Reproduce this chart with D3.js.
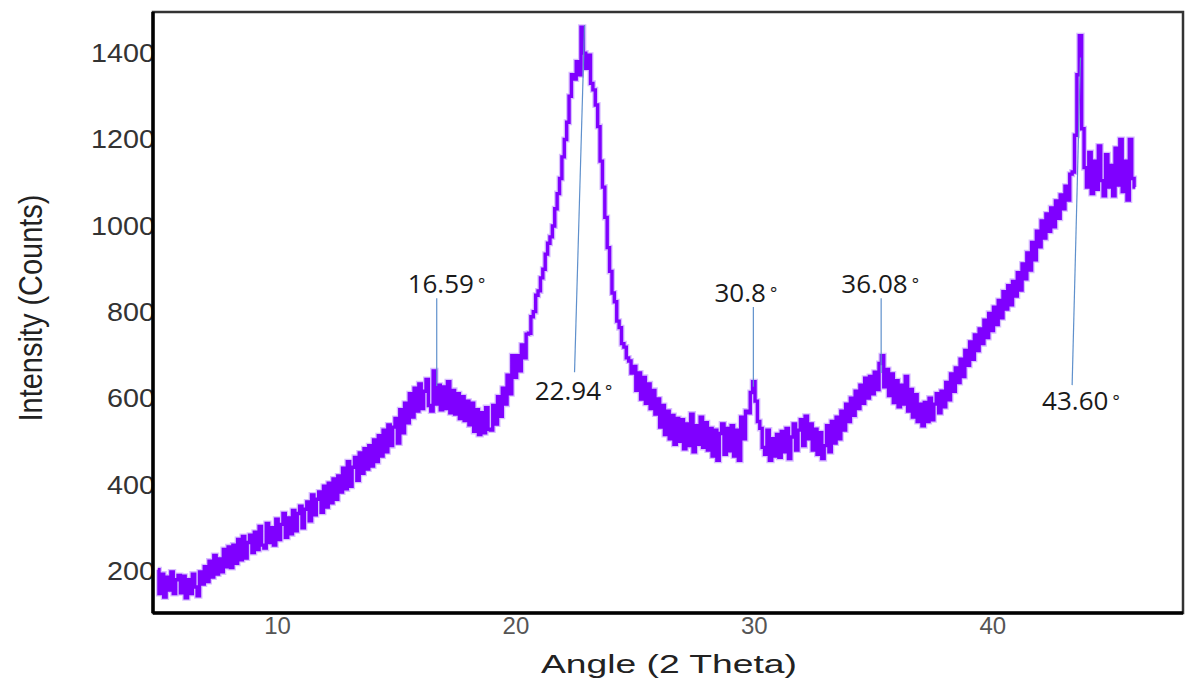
<!DOCTYPE html>

<head>
  <meta charset="utf-8">
  <script src="https://d3js.org/d3.v7.min.js"></script>
  <style>
    body { margin: 0; background: #fff; }
    text { font-family: "Liberation Sans", Arial, sans-serif; }
    .tick line, path.domain { display: none; }
    .yAxis .tick text { font-size: 25px; fill: #333; }
    .xAxis .tick text { font-size: 24px; fill: #555; }
    text.axisTitle { font-size: 25px; fill: #222; }
    text.peakLabel { font-family: "Open Sans", sans-serif; font-size: 26px; fill: #1a1a1a; }
    line.leader { stroke: #5f90cc; stroke-width: 1.2; }
    path.trace { fill: none; stroke: #7f00ff; stroke-width: 3.4; }
    path.traceGlow { fill: none; stroke: #a870ff; stroke-width: 6; opacity: 0.45; }
  </style>
</head>

<body>
  <script>
    var width = 1186, height = 684;

    // sampling grid of the scan (2 theta, degrees)
    const angleStart = 5.0;
    const angleStep = 0.1;

    // intensity, one row per degree (5.0 .. 46.0)
    const intensity = [
      205, 150, 195, 142, 188, 158, 200, 150, 182, 192,
      152, 190, 140, 182, 150, 195, 165, 145, 200, 172,
      212, 178, 225, 188, 238, 195, 230, 200, 252, 212,
      258, 210, 262, 220, 275, 228, 282, 232, 268, 285,
      245, 292, 252, 305, 262, 255, 312, 268, 302, 262,
      322, 275, 310, 335, 280, 325, 288, 342, 295, 335,
      352, 302, 345, 362, 318, 378, 332, 368, 385, 338,
      398, 350, 405, 360, 415, 368, 422, 385, 440, 392,
      455, 398, 442, 465, 412, 475, 428, 485, 438, 492,
      445, 505, 455, 515, 468, 528, 478, 540, 492, 535,
      555, 498, 575, 522, 590, 545, 612, 558, 625, 572,
      635, 578, 618, 645, 585, 572, 665, 588, 632, 575,
      628, 578, 640, 568, 620, 565, 612, 555, 605, 550,
      595, 540, 590, 525, 575, 518, 568, 522, 580, 530,
      528, 585, 542, 605, 560, 625, 588, 655, 612, 700,
      650, 700, 665, 725, 695, 750, 752, 790, 802, 840,
      850, 880, 900, 935, 960, 975, 1000, 1040, 1075, 1110,
      1160, 1200, 1240, 1300, 1350, 1340, 1380, 1350, 1460, 1400,
      1365, 1395, 1330, 1315, 1280, 1230, 1150, 1090, 1020, 950,
      895, 845, 825, 780, 765, 728, 720, 695, 688, 660,
      675, 620, 660, 600, 650, 590, 635, 578, 620, 565,
      600, 535, 585, 518, 572, 508, 562, 495, 555, 502,
      552, 485, 542, 492, 565, 478, 538, 495, 558, 488,
      545, 482, 532, 468, 528, 458, 520, 542, 472, 532,
      480, 538, 468, 528, 458, 558, 508, 572, 568, 615,
      640, 595, 548, 532, 488, 472, 528, 458, 508, 468,
      518, 465, 525, 478, 532, 462, 512, 542, 482, 528,
      552, 492, 560, 508, 542, 482, 530, 472, 522, 462,
      492, 538, 478, 548, 498, 558, 508, 572, 528, 588,
      548, 602, 562, 618, 578, 632, 590, 648, 602, 652,
      612, 662, 622, 682, 700, 628, 668, 608, 658, 592,
      642, 582, 632, 588, 652, 572, 622, 558, 610, 548,
      588, 538, 592, 548, 602, 552, 588, 612, 568, 618,
      582, 638, 598, 658, 618, 672, 638, 692, 652, 712,
      678, 732, 692, 748, 712, 762, 728, 782, 742, 798,
      758, 812, 772, 828, 788, 848, 808, 862, 818, 872,
      838, 892, 852, 912, 878, 938, 898, 962, 922, 988,
      952, 1012, 972, 1028, 988, 1042, 998, 1058, 1018, 1072,
      1040, 1092, 1060, 1120, 1125, 1210, 1350, 1440, 1225, 1135,
      1090, 1170, 1075, 1150, 1085, 1185, 1105, 1070, 1165, 1090,
      1140, 1070, 1180, 1095, 1200, 1080, 1150, 1060, 1200, 1110,
      1090
    ];

    const xTicks = [10, 20, 30, 40];
    const yTicks = [200, 400, 600, 800, 1000, 1200, 1400];

    // peak call-outs: label, label anchor (start x, baseline y), leader line ends
    const peakLabels = ['16.59', '22.94', '30.8', '36.08', '43.60'];
    const labelPos = [[15.48, 845], [20.81, 598], [28.35, 824], [33.67, 845], [42.09, 575]];
    const leaderTop = [[16.70, 833], [22.90, 1465], [29.98, 813], [35.34, 833], [43.70, 1390]];
    const leaderBottom = [[16.70, 630], [22.48, 662], [29.98, 628], [35.34, 660], [43.35, 632]];

    const margin = { top: 12, right: 3, bottom: 71, left: 153 };

    var svg = d3.select('body').append('svg')
      .attr('width', width)
      .attr('height', height);

    let x = d3.scaleLinear()
      .domain([4.8, 48])
      .range([margin.left, width - margin.right]);

    let y = d3.scaleLinear()
      .domain([105, 1495])
      .range([height - margin.bottom, margin.top]);

    let data = intensity.map((v, i) => ({ angle: angleStart + i * angleStep, value: v }));

    // axes (labels only, no tick marks)
    svg.append('g')
      .attr('class', 'axis xAxis')
      .attr('transform', `translate(0, ${height - margin.bottom})`)
      .call(d3.axisBottom(x).tickValues(xTicks).tickSize(0).tickPadding(4));

    svg.append('g')
      .attr('class', 'axis yAxis')
      .attr('transform', `translate(${margin.left}, 0)`)
      .call(d3.axisLeft(y).tickValues(yTicks).tickFormat(d3.format('d')).tickSize(0).tickPadding(-2))
      .selectAll('text')
      .attr('textLength', d => String(d).length * 16)
      .attr('lengthAdjust', 'spacingAndGlyphs');

    // trace
    let line = d3.line()
      .x(d => x(d.angle))
      .y(d => y(d.value))
      .curve(d3.curveStep);

    svg.append('path')
      .datum(data)
      .attr('class', 'traceGlow')
      .attr('d', line);

    svg.append('path')
      .datum(data)
      .attr('class', 'trace')
      .attr('d', line);

    // leader lines + labels
    svg.selectAll('line.leader')
      .data(peakLabels)
      .enter()
      .append('line')
      .attr('class', 'leader')
      .attr('x1', (d, i) => x(leaderTop[i][0]))
      .attr('y1', (d, i) => y(leaderTop[i][1]))
      .attr('x2', (d, i) => x(leaderBottom[i][0]))
      .attr('y2', (d, i) => y(leaderBottom[i][1]));

    let labels = svg.selectAll('text.peakLabel')
      .data(peakLabels)
      .enter()
      .append('text')
      .attr('class', 'peakLabel')
      .attr('x', (d, i) => x(labelPos[i][0]))
      .attr('y', (d, i) => y(labelPos[i][1]));

    labels.append('tspan').text(d => d);
    labels.append('tspan')
      .attr('dx', 4)
      .attr('dy', -3)
      .style('font-size', '17px')
      .text('\u00b0');

    // frame
    svg.append('rect')
      .attr('x', margin.left)
      .attr('y', margin.top)
      .attr('width', width - margin.left - margin.right)
      .attr('height', height - margin.top - margin.bottom)
      .style('fill', 'none')
      .style('stroke', '#333')
      .style('stroke-width', 2.5);

    svg.append('line')
      .attr('x1', margin.left).attr('x2', margin.left)
      .attr('y1', margin.top).attr('y2', height - margin.bottom)
      .style('stroke', '#000').style('stroke-width', 3.5);

    svg.append('line')
      .attr('x1', margin.left).attr('x2', width - margin.right)
      .attr('y1', height - margin.bottom).attr('y2', height - margin.bottom)
      .style('stroke', '#000').style('stroke-width', 3.5);

    // axis titles
    svg.append('text')
      .attr('class', 'axisTitle')
      .attr('x', 669)
      .attr('y', 673)
      .attr('text-anchor', 'middle')
      .attr('textLength', 256)
      .attr('lengthAdjust', 'spacingAndGlyphs')
      .text('Angle (2 Theta)');

    svg.append('text')
      .attr('class', 'axisTitle')
      .attr('transform', 'translate(42, 308) scale(1.35, 1) rotate(-90)')
      .attr('text-anchor', 'middle')
      .attr('textLength', 227)
      .attr('lengthAdjust', 'spacingAndGlyphs')
      .text('Intensity (Counts)');
  </script>
</body>
